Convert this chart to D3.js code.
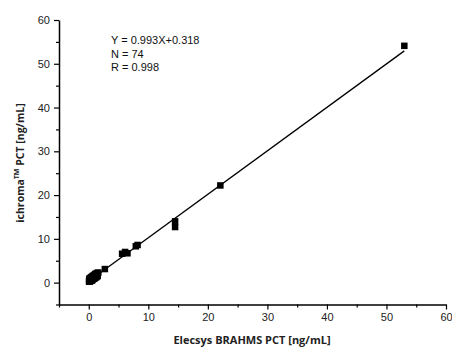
<!DOCTYPE html>
<html>
<head>
<meta charset="utf-8">
<script src="https://cdn.jsdelivr.net/npm/d3@7"></script>
<style>
body { margin: 0; background: #fff; }
svg { display: block; }
</style>
</head>
<body>
<div id="chart"></div>
<script>
// Elecsys BRAHMS PCT (x) vs ichroma PCT (y), ng/mL
let clusterPoints = [
	[0.05,0.25],[0.08,0.6],[0.1,0.35],[0.12,0.9],[0.15,0.4],[0.18,0.7],[0.2,0.3],[0.22,1.0],
	[0.25,0.55],[0.28,0.8],[0.3,0.45],[0.32,1.1],[0.35,0.65],[0.38,0.9],[0.4,0.5],[0.42,1.2],
	[0.45,0.75],[0.48,1.0],[0.5,0.6],[0.52,1.3],[0.55,0.85],[0.58,1.1],[0.6,0.7],[0.62,1.4],
	[0.65,0.95],[0.7,1.2],[0.72,0.8],[0.75,1.5],[0.8,1.05],[0.82,1.3],[0.85,0.9],[0.9,1.6],
	[0.92,1.15],[0.95,1.4],[1.0,1.0],[1.02,1.8],[1.05,1.25],[1.1,1.55],[1.12,1.1],[1.15,2.0],
	[1.2,1.4],[1.25,1.7],[1.3,1.3],[1.35,2.2],[1.4,1.6],[1.45,1.9],[1.5,1.5],[0.06,0.45],
	[0.11,0.2],[0.14,0.65],[0.24,0.4],[0.33,0.7],[0.44,0.95],[0.56,0.5],[0.68,1.05],[0.78,1.25],
	[0.88,1.45],[0.98,1.7],[1.08,1.9],[1.18,1.65],[0.3,1.0],[0.5,1.15],[0.7,1.55],[1.6,2.3]
]

let highPoints = [
	[2.7,3.1],[5.6,6.6],[6.1,7.0],[6.5,6.7],[7.9,8.3],[8.2,8.6],
	[14.5,12.7],[14.5,14.0],[22.1,22.2],[53.0,54.1]
]

let slope = 0.993
let intercept = 0.318
let statLines = ['Y = 0.993X+0.318', 'N = 74', 'R = 0.998']

let xTicks = [0, 10, 20, 30, 40, 50, 60]
let yTicks = [0, 10, 20, 30, 40, 50, 60]
let minorTicks = [-5, 5, 15, 25, 35, 45, 55]

let points = clusterPoints.concat(highPoints)

let width = 452
let height = 347

let xScale = d3.scaleLinear()
	.domain([-5, 60])
	.range([59, 446])

let yScale = d3.scaleLinear()
	.domain([-5, 60])
	.range([304.5, 20])

const svg = d3.select('#chart')
	.append('svg')
	.attr('width', width)
	.attr('height', height)

let tickFont = '"Liberation Sans", Arial, sans-serif'

// minor ticks first, then the main axis
svg.append('g')
	.attr('transform', `translate(0,${yScale(-5)})`)
	.call(d3.axisBottom(xScale).tickValues(minorTicks).tickSize(3).tickFormat(''))
	.call(g => g.select('.domain').remove())

svg.append('g')
	.attr('transform', `translate(${xScale(-5)},0)`)
	.call(d3.axisLeft(yScale).tickValues(minorTicks).tickSize(3).tickFormat(''))
	.call(g => g.select('.domain').remove())

let xG = svg.append('g')
	.attr('transform', `translate(0,${yScale(-5)})`)
	.call(d3.axisBottom(xScale).tickValues(xTicks).tickSize(5).tickSizeOuter(0).tickPadding(4))

let yG = svg.append('g')
	.attr('transform', `translate(${xScale(-5)},0)`)
	.call(d3.axisLeft(yScale).tickValues(yTicks).tickSize(5).tickSizeOuter(0).tickPadding(4))

svg.selectAll('.tick line').attr('stroke', '#000').attr('stroke-width', 1.2)
svg.selectAll('.domain').attr('stroke', '#000').attr('stroke-width', 1.5)
svg.selectAll('.tick text')
	.attr('fill', '#222')
	.attr('font-size', 11)
	.attr('font-family', tickFont)

// regression line over the data range
let xExtent = d3.extent(points, d => d[0])

svg.append('line')
	.attr('x1', xScale(xExtent[0]))
	.attr('y1', yScale(slope * xExtent[0] + intercept))
	.attr('x2', xScale(xExtent[1]))
	.attr('y2', yScale(slope * xExtent[1] + intercept))
	.attr('stroke', '#000')
	.attr('stroke-width', 1.3)

let size = 6.5

svg.selectAll('.pt')
	.data(points)
	.enter()
	.append('rect')
	.attr('class', 'pt')
	.attr('x', d => xScale(d[0]) - size / 2)
	.attr('y', d => yScale(d[1]) - size / 2)
	.attr('width', size)
	.attr('height', size)
	.attr('fill', '#000')

svg.selectAll('.stat')
	.data(statLines)
	.enter()
	.append('text')
	.attr('class', 'stat')
	.attr('x', 111)
	.attr('y', (d, i) => 44 + i * 13.5)
	.attr('font-size', 11)
	.attr('font-family', tickFont)
	.attr('fill', '#111')
	.text(d => d)

let titleFont = '"Open Sans", "DejaVu Sans", sans-serif'

svg.append('text')
	.attr('x', 252)
	.attr('y', 344)
	.attr('text-anchor', 'middle')
	.attr('font-size', 11)
	.attr('font-weight', 'bold')
	.attr('font-family', titleFont)
	.attr('fill', '#222')
	.text('Elecsys BRAHMS PCT [ng/mL]')

let yTitle = svg.append('text')
	.attr('transform', 'translate(24,163) rotate(-90)')
	.attr('text-anchor', 'middle')
	.attr('font-size', 10.5)
	.attr('font-weight', 'bold')
	.attr('font-family', titleFont)
	.attr('fill', '#222')

yTitle.append('tspan').text('ichroma')
yTitle.append('tspan').attr('dy', -5).attr('font-size', 7).text('TM')
yTitle.append('tspan').attr('dy', 5).text(' PCT [ng/mL]')
</script>
</body>
</html>
